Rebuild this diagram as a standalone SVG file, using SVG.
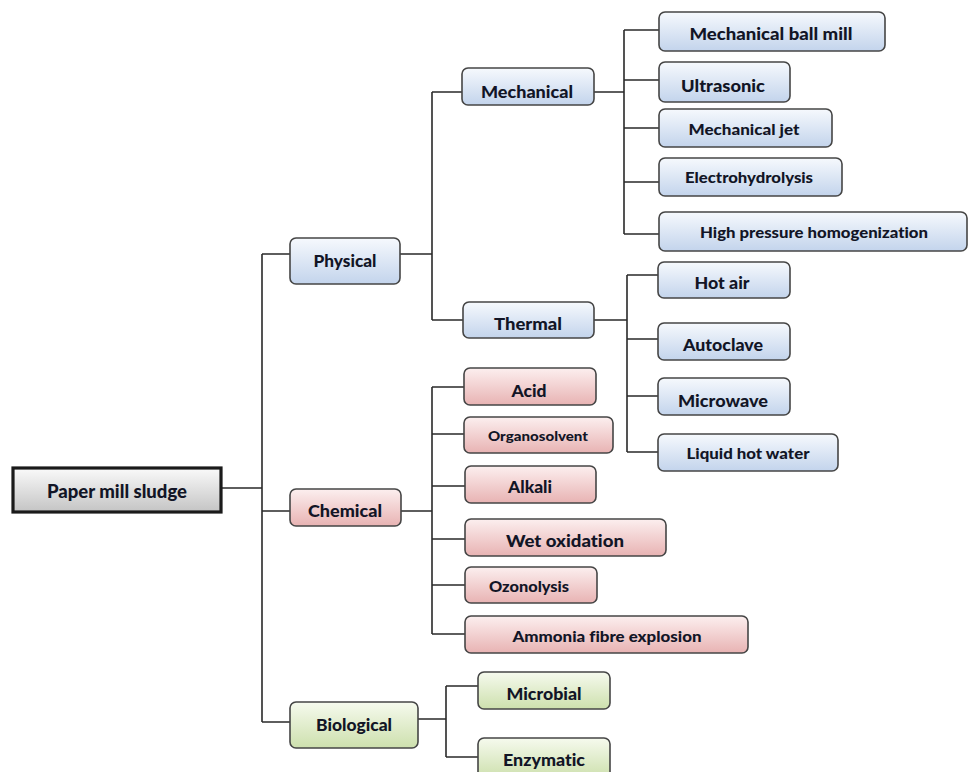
<svg xmlns="http://www.w3.org/2000/svg" width="970" height="772" viewBox="0 0 970 772">
<defs>
<linearGradient id="gBlue" x1="0" y1="0" x2="0" y2="1"><stop offset="0" stop-color="#f6f9fd"/><stop offset="1" stop-color="#c3d4ec"/></linearGradient>
<linearGradient id="gRed" x1="0" y1="0" x2="0" y2="1"><stop offset="0" stop-color="#fcefef"/><stop offset="1" stop-color="#e8b3b3"/></linearGradient>
<linearGradient id="gGreen" x1="0" y1="0" x2="0" y2="1"><stop offset="0" stop-color="#f6faee"/><stop offset="1" stop-color="#cde0ad"/></linearGradient>
<linearGradient id="gGray" x1="0" y1="0" x2="0" y2="1"><stop offset="0" stop-color="#fafafa"/><stop offset="1" stop-color="#c4c4c4"/></linearGradient>
</defs>
<style>
.b{fill:url(#gBlue);stroke:#454545;stroke-width:1.6}
.r{fill:url(#gRed);stroke:#454545;stroke-width:1.6}
.g{fill:url(#gGreen);stroke:#454545;stroke-width:1.6}
.root{fill:url(#gGray);stroke:#1a1a1a;stroke-width:3.2}
text{font-family:Lato,"Liberation Sans",sans-serif;font-weight:900;fill:#121526;text-anchor:middle;font-size:17px;font-variant-ligatures:none}
.sm{font-size:15.5px}
.c path{fill:none;stroke:#2a2a2a;stroke-width:1.6}
</style>
<rect width="970" height="772" fill="#ffffff"/>
<g class="c" id="connectors">
<path d="M221 488H262M262 254V722M262 254H290M262 511H290M262 722H290"/>
<path d="M400 254H432M432 92V320M432 92H462M432 320H463"/>
<path d="M594 92H624M624 30V234M624 30H659M624 80H659M624 128H659M624 182H659M624 234H659"/>
<path d="M594 320H627M627 275V452M627 275H658M627 339H658M627 396H658M627 452H658"/>
<path d="M401 511H432M432 387V634M432 387H464M432 434H464M432 486H465M432 539H465M432 585H465M432 634H465"/>
<path d="M418 719H446M446 686V757M446 686H478M446 757H478"/>
</g>
<g id="n-root"><rect class="root" x="13" y="468" width="208" height="44"/><text x="117" y="498" textLength="140" lengthAdjust="spacingAndGlyphs" style="font-size:18px">Paper mill sludge</text></g>
<g id="n-physical"><rect class="b" x="290" y="238" width="110" height="46" rx="6"/><text x="345" y="267" textLength="63" lengthAdjust="spacingAndGlyphs">Physical</text></g>
<g id="n-chemical"><rect class="r" x="290" y="489" width="111" height="37" rx="6"/><text x="345" y="517" textLength="74" lengthAdjust="spacingAndGlyphs">Chemical</text></g>
<g id="n-biological"><rect class="g" x="290" y="702" width="128" height="46" rx="6"/><text x="354" y="731" textLength="76" lengthAdjust="spacingAndGlyphs">Biological</text></g>
<g id="n-mechanical"><rect class="b" x="462" y="68" width="132" height="37" rx="6"/><text x="527" y="98" textLength="92" lengthAdjust="spacingAndGlyphs">Mechanical</text></g>
<g id="n-thermal"><rect class="b" x="463" y="302" width="131" height="36" rx="6"/><text x="528" y="330" textLength="68" lengthAdjust="spacingAndGlyphs">Thermal</text></g>
<g id="n-ballmill"><rect class="b" x="659" y="12" width="226" height="39" rx="6"/><text x="771" y="40" textLength="163" lengthAdjust="spacingAndGlyphs">Mechanical  ball mill</text></g>
<g id="n-ultrasonic"><rect class="b" x="659" y="62" width="131" height="40" rx="6"/><text x="723" y="92" textLength="84" lengthAdjust="spacingAndGlyphs">Ultrasonic</text></g>
<g id="n-mechjet"><rect class="b" x="659" y="109" width="173" height="38" rx="6"/><text x="744" y="135" class="sm" textLength="111" lengthAdjust="spacingAndGlyphs">Mechanical jet</text></g>
<g id="n-electro"><rect class="b" x="659" y="158" width="183" height="38" rx="6"/><text x="749" y="183" class="sm" textLength="128" lengthAdjust="spacingAndGlyphs">Electrohydrolysis</text></g>
<g id="n-hph"><rect class="b" x="659" y="212" width="308" height="39" rx="6"/><text x="814" y="238" class="sm" textLength="228" lengthAdjust="spacingAndGlyphs">High pressure homogenization</text></g>
<g id="n-hotair"><rect class="b" x="658" y="262" width="132" height="36" rx="6"/><text x="722" y="289" textLength="55" lengthAdjust="spacingAndGlyphs">Hot air</text></g>
<g id="n-autoclave"><rect class="b" x="658" y="323" width="132" height="37" rx="6"/><text x="723" y="351" textLength="80" lengthAdjust="spacingAndGlyphs">Autoclave</text></g>
<g id="n-microwave"><rect class="b" x="658" y="378" width="132" height="37" rx="6"/><text x="723" y="407" textLength="90" lengthAdjust="spacingAndGlyphs">Microwave</text></g>
<g id="n-lhw"><rect class="b" x="658" y="434" width="180" height="37" rx="6"/><text x="748" y="459" class="sm" textLength="123" lengthAdjust="spacingAndGlyphs">Liquid hot water</text></g>
<g id="n-acid"><rect class="r" x="464" y="368" width="132" height="37" rx="6"/><text x="529" y="397" textLength="35" lengthAdjust="spacingAndGlyphs">Acid</text></g>
<g id="n-organo"><rect class="r" x="464" y="417" width="149" height="36" rx="6"/><text x="538" y="441" style="font-size:14px" textLength="100" lengthAdjust="spacingAndGlyphs">Organosolvent</text></g>
<g id="n-alkali"><rect class="r" x="465" y="466" width="131" height="37" rx="6"/><text x="530" y="493" textLength="44" lengthAdjust="spacingAndGlyphs">Alkali</text></g>
<g id="n-wetox"><rect class="r" x="465" y="519" width="201" height="37" rx="6"/><text x="565" y="547" textLength="118" lengthAdjust="spacingAndGlyphs">Wet oxidation</text></g>
<g id="n-ozono"><rect class="r" x="465" y="567" width="132" height="36" rx="6"/><text x="529" y="592" class="sm" textLength="80" lengthAdjust="spacingAndGlyphs">Ozonolysis</text></g>
<g id="n-ammonia"><rect class="r" x="465" y="616" width="283" height="37" rx="6"/><text x="607" y="642" class="sm" textLength="189" lengthAdjust="spacingAndGlyphs">Ammonia fibre explosion</text></g>
<g id="n-microbial"><rect class="g" x="478" y="672" width="132" height="37" rx="6"/><text x="544" y="700" textLength="75" lengthAdjust="spacingAndGlyphs">Microbial</text></g>
<g id="n-enzymatic"><rect class="g" x="478" y="738" width="132" height="40" rx="6"/><text x="544" y="766" textLength="82" lengthAdjust="spacingAndGlyphs">Enzymatic</text></g>
</svg>
